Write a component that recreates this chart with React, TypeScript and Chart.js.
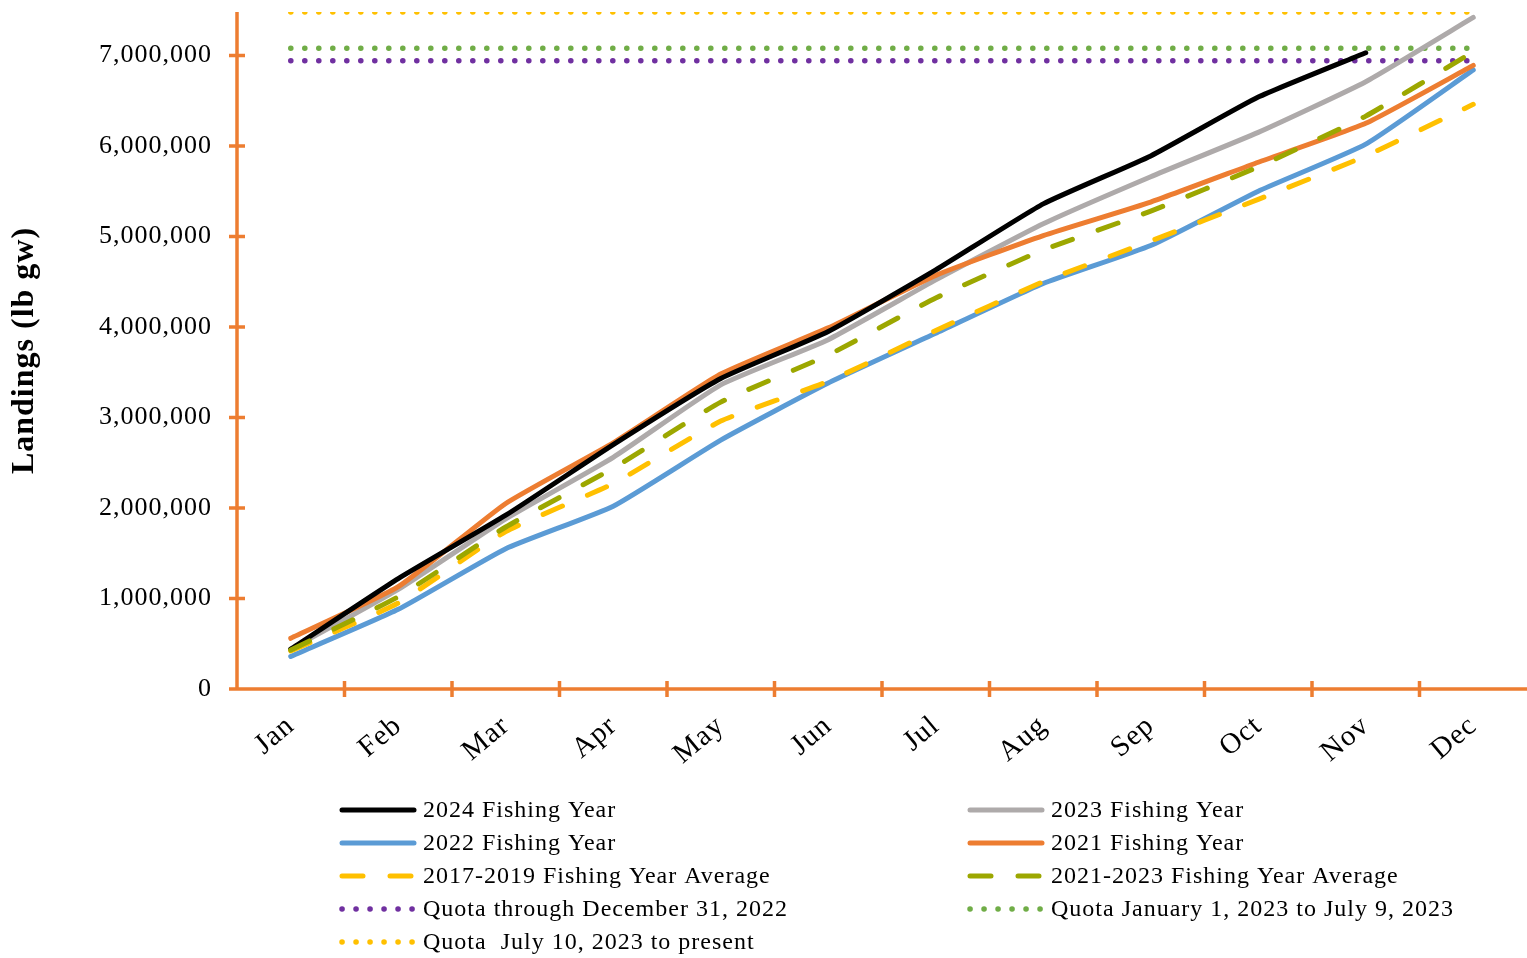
import React, { useEffect, useRef } from 'react';
import { Chart, registerables } from 'chart.js';

Chart.register(...registerables);

const months = ['Jan', 'Feb', 'Mar', 'Apr', 'May', 'Jun', 'Jul', 'Aug', 'Sep', 'Oct', 'Nov', 'Dec'];

const fy2024 = [440000, 1220000, 1920000, 2700000, 3430000, 3950000, 4630000, 5360000, 5890000, 6540000, 7030000, null];
const fy2023 = [440000, 1100000, 1880000, 2560000, 3360000, 3860000, 4520000, 5140000, 5660000, 6150000, 6710000, 7420000];
const fy2022 = [360000, 880000, 1550000, 2020000, 2750000, 3380000, 3930000, 4480000, 4900000, 5500000, 6020000, 6840000];
const fy2021 = [560000, 1130000, 2050000, 2720000, 3480000, 3990000, 4570000, 5010000, 5380000, 5820000, 6250000, 6890000];
const avg2017_2019 = [420000, 950000, 1740000, 2270000, 2960000, 3400000, 3960000, 4500000, 4950000, 5410000, 5890000, 6460000];
const avg2021_2023 = [430000, 1020000, 1790000, 2440000, 3170000, 3690000, 4320000, 4850000, 5280000, 5770000, 6330000, 7040000];
const quotaThroughDec2022 = [6940000, 6940000, 6940000, 6940000, 6940000, 6940000, 6940000, 6940000, 6940000, 6940000, 6940000, 6940000];
const quotaJan1toJul9_2023 = [7080000, 7080000, 7080000, 7080000, 7080000, 7080000, 7080000, 7080000, 7080000, 7080000, 7080000, 7080000];
const quotaJul10_2023toPresent = [7480000, 7480000, 7480000, 7480000, 7480000, 7480000, 7480000, 7480000, 7480000, 7480000, 7480000, 7480000];

const yMin = 0;
const yMax = 7480000;
const yTickValues = [0, 1000000, 2000000, 3000000, 4000000, 5000000, 6000000, 7000000];

const seriesLabels = {
  fy2024: '2024 Fishing Year',
  fy2023: '2023 Fishing Year',
  fy2022: '2022 Fishing Year',
  fy2021: '2021 Fishing Year',
  avg1719: '2017-2019 Fishing Year Average',
  avg2123: '2021-2023 Fishing Year Average',
  qDec: 'Quota through December 31, 2022',
  qJan: 'Quota January 1, 2023 to July 9, 2023',
  qJul: 'Quota  July 10, 2023 to present',
};

const legendOrder = [
  seriesLabels.fy2024, seriesLabels.fy2023,
  seriesLabels.fy2022, seriesLabels.fy2021,
  seriesLabels.avg1719, seriesLabels.avg2123,
  seriesLabels.qDec, seriesLabels.qJan,
  seriesLabels.qJul,
];

const FONT = '"Liberation Serif", "Times New Roman", Times, serif';
const AXIS_COLOR = '#ED7D31';

export default function App() {
  const ref = useRef<HTMLCanvasElement>(null);

  useEffect(() => {
    const canvas = ref.current;
    if (!canvas) return;

    const solid = (label: string, data: (number | null)[], color: string) => ({
      label, data, borderColor: color, backgroundColor: color, borderWidth: 5,
      pointRadius: 0, tension: 0.15, fill: false, borderCapStyle: 'round', borderJoinStyle: 'round',
    });
    const dashed = (label: string, data: number[], color: string) => ({
      ...solid(label, data, color), borderDash: [21, 27],
    });
    const dotted = (label: string, data: number[], color: string, clip?: number) => ({
      label, data, borderColor: color, backgroundColor: color, borderWidth: 5.5,
      pointRadius: 0, tension: 0, fill: false, borderCapStyle: 'round', borderDash: [0.1, 13.9],
      ...(clip !== undefined ? { clip } : {}),
    });

    const spacingPlugin = {
      id: 'spacing',
      beforeUpdate(chart: any) { chart.ctx.letterSpacing = '1px'; },
      beforeDraw(chart: any) { chart.ctx.letterSpacing = '1px'; },
    };

    const axisPlugin = {
      id: 'axisCross',
      beforeDatasetsDraw(chart: any) {
        const { ctx, chartArea } = chart;
        const xs = chart.scales.x;
        const ys = chart.scales.y;
        ctx.save();
        ctx.strokeStyle = AXIS_COLOR;
        ctx.lineWidth = 3.5;
        ctx.lineCap = 'butt';
        const x0 = chartArea.left;
        const y0 = ys.getPixelForValue(0);
        ctx.beginPath();
        ctx.moveTo(x0, chartArea.top);
        ctx.lineTo(x0, y0 + 1.75);
        ctx.moveTo(x0 - 1.75, y0);
        ctx.lineTo(chartArea.right, y0);
        ys.ticks.forEach((t: any) => {
          const y = ys.getPixelForValue(t.value);
          ctx.moveTo(x0 - 8, y);
          ctx.lineTo(x0 + 8, y);
        });
        const half = (xs.getPixelForValue(1) - xs.getPixelForValue(0)) / 2;
        for (let i = 0; i < months.length - 1; i++) {
          const x = xs.getPixelForValue(i) + half;
          ctx.moveTo(x, y0 - 8);
          ctx.lineTo(x, y0 + 8);
        }
        ctx.stroke();
        ctx.restore();
      },
    };

    const legendPlugin = {
      id: 'twoColLegend',
      afterDraw(chart: any) {
        const { ctx } = chart;
        const colX = [340, 968];
        const rowY0 = 810;
        const rowGap = 33;
        ctx.save();
        ctx.letterSpacing = '1px';
        legendOrder.forEach((label, i) => {
          const ds: any = chart.data.datasets.find((d: any) => d.label === label);
          if (!ds) return;
          const col = i % 2;
          const row = Math.floor(i / 2);
          const x = colX[col];
          const y = rowY0 + row * rowGap;
          ctx.beginPath();
          ctx.strokeStyle = ds.borderColor;
          ctx.lineWidth = ds.borderWidth;
          ctx.lineCap = 'round';
          ctx.setLineDash(ds.borderDash || []);
          ctx.moveTo(x + 2, y);
          ctx.lineTo(x + 74, y);
          ctx.stroke();
          ctx.setLineDash([]);
          ctx.fillStyle = '#000';
          ctx.font = `24px ${FONT}`;
          ctx.textBaseline = 'middle';
          ctx.textAlign = 'left';
          ctx.fillText(label, x + 83, y + 1);
        });
        ctx.restore();
      },
    };

    const chart = new Chart(canvas, {
      type: 'line',
      data: {
        labels: months,
        datasets: [
          dashed(seriesLabels.avg2123, avg2021_2023, '#9CA700'),
          dashed(seriesLabels.avg1719, avg2017_2019, '#FFC000'),
          solid(seriesLabels.fy2024, fy2024, '#000000'),
          solid(seriesLabels.fy2021, fy2021, '#ED7D31'),
          solid(seriesLabels.fy2023, fy2023, '#AEAAAA'),
          solid(seriesLabels.fy2022, fy2022, '#5B9BD5'),
          dotted(seriesLabels.qDec, quotaThroughDec2022, '#7030A0'),
          dotted(seriesLabels.qJan, quotaJan1toJul9_2023, '#70AD47'),
          dotted(seriesLabels.qJul, quotaJul10_2023toPresent, '#FFC000', 0),
        ] as any,
      },
      options: {
        animation: false,
        responsive: false,
        devicePixelRatio: 1,
        events: [],
        spanGaps: false,
        layout: { padding: { top: 12, left: 0, right: 0, bottom: 0 } },
        plugins: {
          legend: { display: false },
          tooltip: { enabled: false },
          title: { display: false },
        },
        scales: {
          x: {
            type: 'category',
            offset: true,
            grid: { display: false, drawTicks: false },
            border: { display: false },
            ticks: {
              color: '#000',
              font: { family: FONT, size: 29 },
              minRotation: 40,
              maxRotation: 40,
              padding: 20,
              autoSkip: false,
            },
            afterFit(scale: any) {
              scale.height = 269;
              scale.paddingLeft = 0;
              scale.paddingRight = 0;
            },
          },
          y: {
            type: 'linear',
            min: yMin,
            max: yMax,
            grid: { display: false, drawTicks: false },
            border: { display: false },
            ticks: {
              color: '#000',
              padding: 25,
              font: { family: FONT, size: 26 },
              autoSkip: false,
              callback: (v: any) => Number(v).toLocaleString('en-US'),
            },
            afterBuildTicks(scale: any) {
              scale.ticks = yTickValues.map((v) => ({ value: v }));
            },
            title: {
              display: true,
              text: 'Landings (lb gw)',
              color: '#000',
              font: { family: FONT, size: 32, weight: 'bold' },
              padding: { top: 6, bottom: 0 },
            },
            afterFit(scale: any) {
              scale.width = 237;
              scale.paddingTop = 0;
              scale.paddingBottom = 0;
            },
          },
        },
      } as any,
      plugins: [spacingPlugin, axisPlugin, legendPlugin],
    });

    return () => chart.destroy();
  }, []);

  return (
    <div style={{ position: 'absolute', left: 0, top: 0, width: 1527, height: 958, background: '#fff' }}>
      <canvas ref={ref} width={1527} height={958} style={{ display: 'block', width: 1527, height: 958 }} />
    </div>
  );
}
